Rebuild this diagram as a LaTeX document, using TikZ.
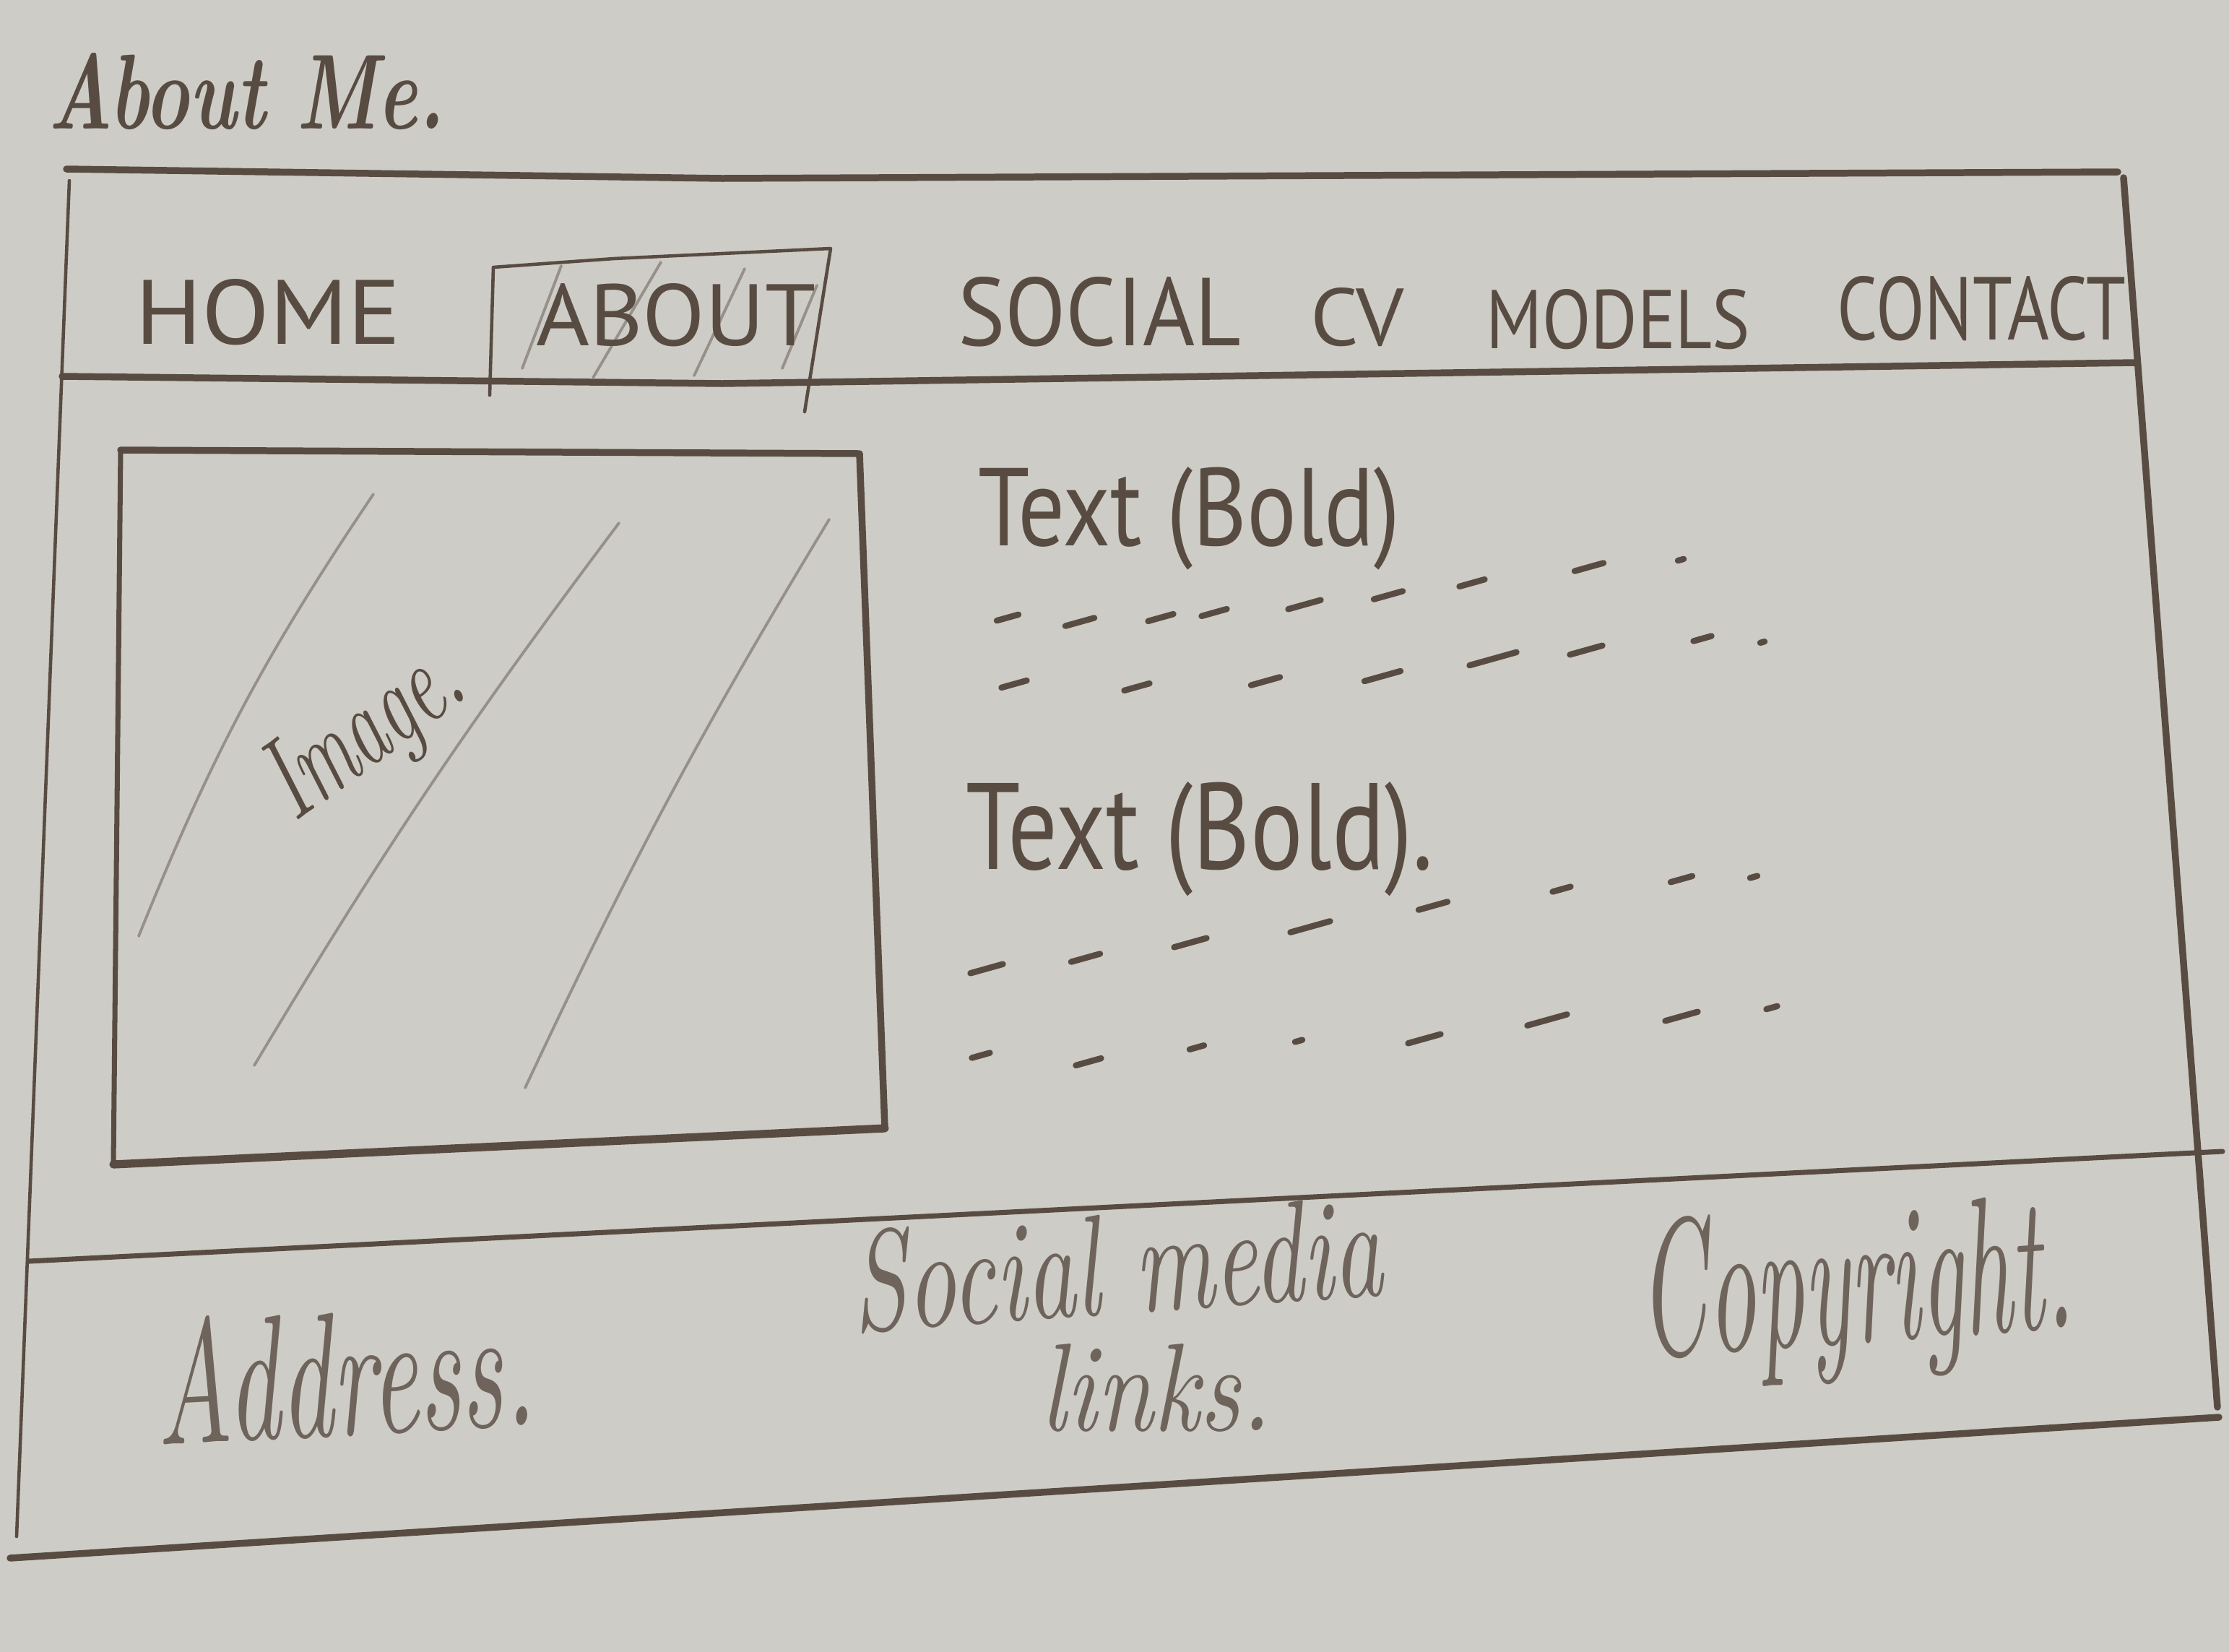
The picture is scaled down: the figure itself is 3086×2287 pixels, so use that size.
\documentclass[tikz,border=0pt]{standalone}
\usepackage{fontspec}
\usepackage{graphicx}
\newfontfamily\capsfont{PT Sans}
\definecolor{paper}{RGB}{206,204,198}
\definecolor{pencil}{RGB}{88,76,66}
\definecolor{softpencil}{RGB}{110,100,92}
\definecolor{faintpencil}{RGB}{150,144,137}
\tikzset{
  heavy/.style={draw=pencil, line width=2.7pt, line cap=round, line join=round},
  medium/.style={draw=pencil, line width=2.0pt, line cap=round, line join=round},
  light/.style={draw=pencil, line width=1.3pt, line cap=round, line join=round},
  faint/.style={draw=faintpencil, line width=1.1pt, line cap=round},
  dashmark/.style={draw=pencil, line width=2.4pt, line cap=round},
  word/.style={inner sep=0pt, outer sep=0pt, text=pencil},
  softword/.style={inner sep=0pt, outer sep=0pt, text=softpencil}
}
\begin{document}
\begin{tikzpicture}[x=0.01cm, y=-0.01cm]
  % sheet of paper
  \fill[paper] (0,0) rectangle (3086,2287);
  \useasboundingbox (0,0) rectangle (3086,2287);

  % page title
  \node[word, anchor=base west] (title) at (67,178)
    {\resizebox{5.48cm}{1.05cm}{\bfseries\itshape About Me.}};

  % outer frame
  \coordinate (ftl) at (92,234);
  \coordinate (ftm) at (1000,247);
  \coordinate (ftr) at (2932,238);
  \coordinate (fl1) at (96,250);
  \coordinate (fl2) at (23,2127);
  \coordinate (fr1) at (2940,246);
  \coordinate (fr2) at (3070,1948);
  \draw[heavy] (ftl) -- (ftm) -- (ftr);
  \draw[light] (fl1) -- (fl2);
  \draw[heavy] (fr1) -- (fr2);

  % navigation bar
  \coordinate (nl) at (86,521);
  \coordinate (nm) at (1000,531);
  \coordinate (nr) at (2955,502);
  \draw[heavy] (nl) -- (nm) -- (nr);

  % active tab box
  \coordinate (ab1) at (678,547);
  \coordinate (ab2) at (683,370);
  \coordinate (ab3) at (850,358);
  \coordinate (ab4) at (1150,344);
  \coordinate (ab5) at (1114,570);
  \draw[light] (ab1) -- (ab2) -- (ab3) -- (ab4) -- (ab5);
  \draw[faint] (777,368) -- (723,510);
  \draw[faint] (915,363) -- (821,523);
  \draw[faint] (1031,372) -- (961,520);
  \draw[faint] (1131,395) -- (1083,510);

  % menu entries
  \node[word, anchor=base west] (home) at (187,476)
    {\resizebox{3.68cm}{0.90cm}{\capsfont HOME}};
  \node[word, anchor=base west] (about) at (742,478)
    {\resizebox{3.87cm}{0.86cm}{\capsfont ABOUT}};
  \node[word, anchor=base west] (social) at (1326,478)
    {\resizebox{3.92cm}{0.95cm}{\capsfont SOCIAL}};
  \node[word, anchor=base west] (cv) at (1814,478)
    {\resizebox{1.30cm}{0.80cm}{\capsfont CV}};
  \node[word, anchor=base west] (models) at (2057,482)
    {\resizebox{3.66cm}{0.82cm}{\capsfont MODELS}};
  \node[word, anchor=base west] (contact) at (2543,470)
    {\resizebox{4.00cm}{0.88cm}{\capsfont CONTACT}};

  % image placeholder
  \coordinate (im1) at (167,623);
  \coordinate (im2) at (1190,628);
  \coordinate (im3) at (1225,1562);
  \coordinate (im4) at (157,1612);
  \draw[heavy] (im1) -- (im2) -- (im3);
  \draw[line width=3.2pt, draw=pencil, line cap=round] (im3) -- (im4);
  \draw[medium] (im4) -- (im1);
  \coordinate (d1a) at (517,684);   \coordinate (d1b) at (192,1296);
  \coordinate (d2a) at (857,724);   \coordinate (d2b) at (352,1475);
  \coordinate (d3a) at (1148,719);  \coordinate (d3b) at (727,1506);
  \draw[faint] (d1a) to[bend right=6] (d1b);
  \draw[faint] (d2a) to[bend right=3] (d2b);
  \draw[faint] (d3a) to[bend right=3] (d3b);
  \node[word, anchor=base, rotate=36] (image) at (530,1050)
    {\resizebox{3.0cm}{1.1cm}{\itshape Image.}};

  % text blocks
  \node[word, anchor=base west] (head1) at (1354,755)
    {\resizebox{5.84cm}{1.09cm}{\capsfont Text (Bold)}};
  \node[word, anchor=base west] (head2) at (1337,1203)
    {\resizebox{6.47cm}{1.21cm}{\capsfont Text (Bold).}};

  % placeholder text lines
  \foreach \x/\y/\l in {
      1395/855/30, 1495/861/40, 1607/855/35, 1681/848/35, 1806/837/45,
      1922/824/40, 2038/807/35, 2200/785/40, 2327/775/8,
      1404/947/35, 1574/951/35, 1752/943/40, 1914/936/50, 2067/912/65,
      2196/900/45, 2357/884/25, 2440/889/6,
      1366/1341/45, 1503/1326/40, 1648/1305/45, 1814/1283/55, 1984/1254/40,
      2162/1231/25, 2328/1217/30, 2428/1214/10,
      1358/1461/25, 1507/1470/35, 1657/1450/20, 1798/1441/10, 1972/1438/45,
      2142/1412/55, 2328/1407/45, 2453/1395/15}
    \draw[dashmark] (\x-\l/2, \y+0.14*\l) -- (\x+\l/2, \y-0.14*\l);

  % footer
  \coordinate (ft1) at (40,1746);
  \coordinate (ft2) at (3077,1594);
  \coordinate (fb1) at (14,2157);
  \coordinate (fb2) at (3072,1962);
  \draw[medium] (ft1) -- (ft2);
  \draw[heavy] (fb1) -- (fb2);

  \node[softword, anchor=base west, rotate=3] (address) at (219,2000)
    {\resizebox{5.24cm}{1.75cm}{\itshape Address.}};
  \node[softword, anchor=base, rotate=4] (socialmedia) at (1550,1818)
    {\resizebox{7.35cm}{1.40cm}{\itshape Social media}};
  \node[softword, anchor=base west] (links) at (1440,1980)
    {\resizebox{3.20cm}{1.20cm}{\itshape links.}};
  \node[softword, anchor=base, rotate=4] (copyright) at (2574,1858)
    {\resizebox{6.0cm}{1.9cm}{\itshape Copyright.}};
\end{tikzpicture}
\end{document}
